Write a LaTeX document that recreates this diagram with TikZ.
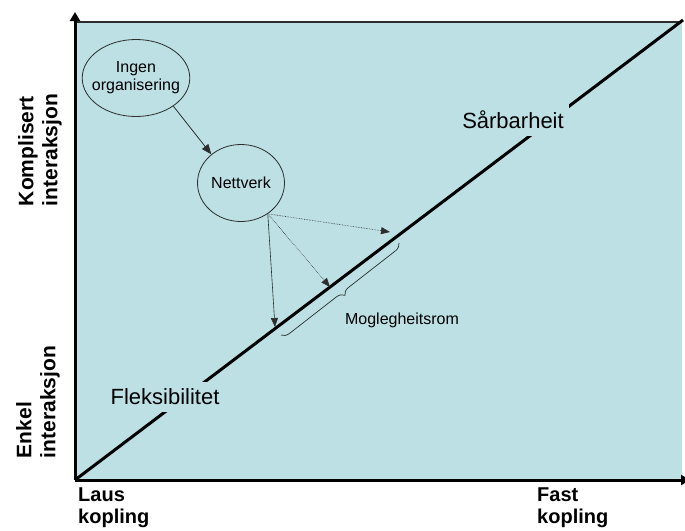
\documentclass[tikz,border=0pt]{standalone}
\usepackage{fontspec}
\setmainfont{Liberation Sans}
\usetikzlibrary{arrows.meta,decorations.pathreplacing,shapes.geometric}
\definecolor{bgblue}{RGB}{188,224,228}
\definecolor{edgegray}{RGB}{45,45,45}
\tikzset{
  axis/.style={line width=3pt, black},
  bubble/.style={ellipse, draw=edgegray, line width=0.8pt, fill=bgblue, inner xsep=-6pt, inner ysep=0pt, font=\fontsize{16}{18}\selectfont, align=center},
  biglabel/.style={fill=bgblue, inner xsep=5pt, inner ysep=7pt, font=\fontsize{22}{26}\selectfont},
  axislabel/.style={font=\fontsize{20}{22}\selectfont\bfseries, align=left, inner sep=0pt},
  sidelabel/.style={font=\fontsize{21}{24}\selectfont\bfseries, align=left, inner sep=0pt, rotate=90},
  thinarrow/.style={line width=0.6pt, edgegray, -{Triangle[length=9pt,width=7pt]}},
}
\begin{document}
\begin{tikzpicture}[x=1pt,y=-1pt]
\useasboundingbox (0,0) rectangle (685,530);
\fill[bgblue] (75,22) rectangle (682,480);
\coordinate (tl) at (75,22);
\coordinate (tr) at (682,22);
\draw[edgegray, line width=1.2pt] (tl) -- (tr);
\coordinate (O) at (75,480);
\coordinate (D) at (683,20);
\coordinate (Ytop) at (75,12);
\coordinate (Xend) at (690,480);
\draw[axis] (O) -- (D);
\draw[axis, -{Triangle[length=9pt,width=10pt]}] (O) -- (Ytop);
\draw[axis, -{Triangle[length=9pt,width=10pt]}] (O) -- (Xend);

\node[biglabel] (sar) at (513,120) {Sårbarheit};
\node[biglabel] (flex) at (165,397) {Fleksibilitet};

\node[bubble, minimum width=107pt, minimum height=77pt] (ingen) at (136,78) {Ingen\\organisering};
\node[bubble, minimum width=87pt, minimum height=77pt] (nett) at (241,183) {Nettverk};

\draw[line width=0.8pt, edgegray, -{Triangle[length=10pt,width=8pt]}] (ingen.-37) -- (nett.136);

\coordinate (src) at (nett.-49);
\coordinate (t1) at (390,232);
\coordinate (t2) at (330,287);
\coordinate (t3) at (275,327);
\draw[thinarrow, densely dotted] (src) -- (t1);
\draw[thinarrow, densely dotted] (src) -- (t2);
\draw[thinarrow] (src) -- (t3);

\coordinate (b1) at (281,335);
\coordinate (b2) at (399,243);
\draw[line width=0.7pt, edgegray, decorate, decoration={brace, amplitude=8pt, mirror}] (b1) -- (b2);

\node[font=\fontsize{16}{18}\selectfont] (mog) at (402,320) {Moglegheitsrom};

\node[axislabel, anchor=north west] (laus) at (78,488) {Laus\\kopling};
\node[axislabel, anchor=north west] (fast) at (537,488) {Fast\\kopling};

\node[sidelabel] (kompl) at (40,150) {Komplisert\\interaksjon};
\node[sidelabel] (enkel) at (38,402) {Enkel\\interaksjon};
\end{tikzpicture}
\end{document}
